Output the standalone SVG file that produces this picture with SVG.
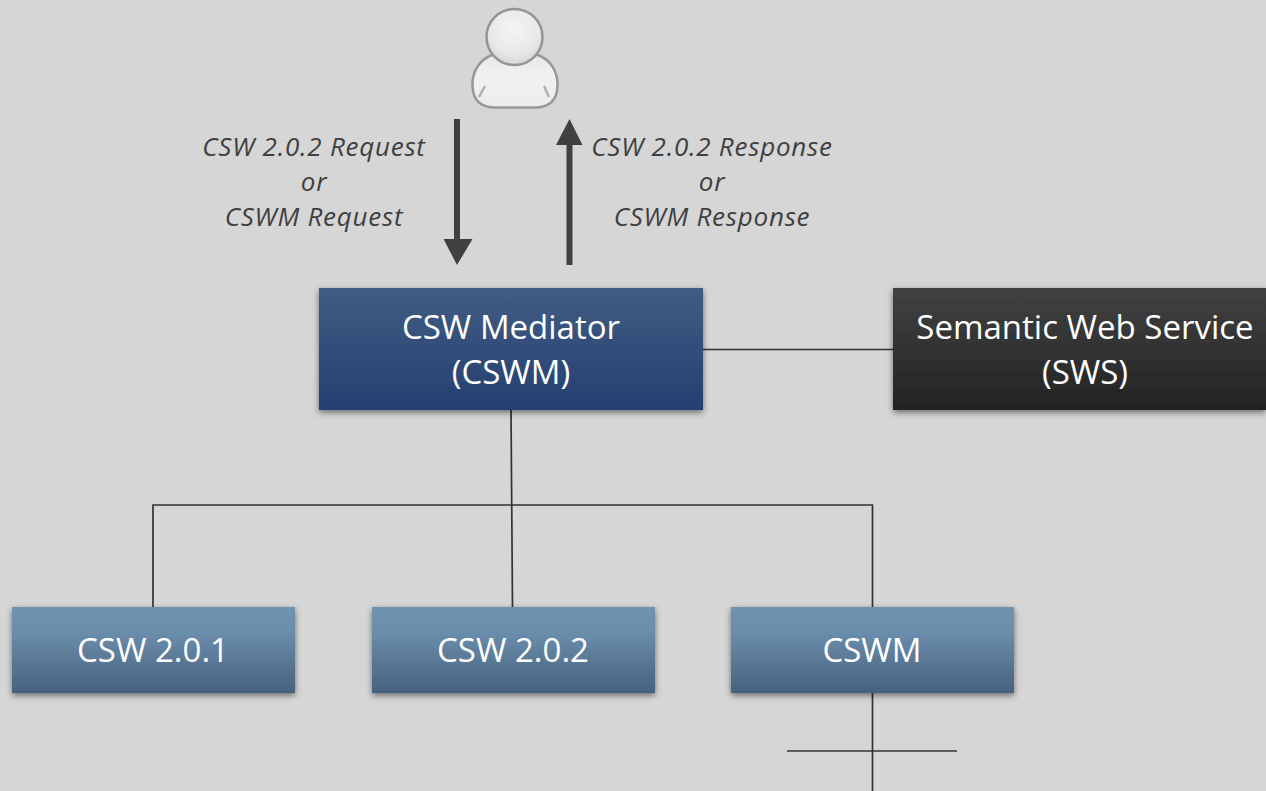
<svg xmlns="http://www.w3.org/2000/svg" width="1266" height="791" viewBox="0 0 1266 791">
<style>
.lbl{font-family:"Open Sans","Noto Sans","DejaVu Sans",sans-serif;font-size:33px;fill:#fff;text-anchor:middle}
.cap{font-family:"Open Sans","Noto Sans","DejaVu Sans",sans-serif;font-size:26px;font-style:italic;letter-spacing:.75px;fill:#404040;text-anchor:middle}
.ln{stroke:#333;stroke-width:1.700;fill:none}
.ar{fill:#404040}
</style>
<defs>
<linearGradient id="gNavy" x1="0" y1="0" x2="0" y2="1"><stop offset="0" stop-color="#415c83"/><stop offset="1" stop-color="#243f70"/></linearGradient>
<linearGradient id="gDark" x1="0" y1="0" x2="0" y2="1"><stop offset="0" stop-color="#414141"/><stop offset="1" stop-color="#232323"/></linearGradient>
<linearGradient id="gBlue" x1="0" y1="0" x2="0" y2="1"><stop offset="0" stop-color="#6e93b0"/><stop offset="0.3" stop-color="#6a8dab"/><stop offset="1" stop-color="#47617f"/></linearGradient>
<radialGradient id="gHead" cx="0.5" cy="0.35" r="0.65"><stop offset="0" stop-color="#f4f4f4"/><stop offset="0.7" stop-color="#e8e8e8"/><stop offset="1" stop-color="#d6d6d6"/></radialGradient>
<linearGradient id="gBody" x1="0" y1="0" x2="0" y2="1"><stop offset="0" stop-color="#e8e8e8"/><stop offset="0.4" stop-color="#f1f1f1"/><stop offset="1" stop-color="#ececec"/></linearGradient>
<filter id="sh" x="-5%" y="-5%" width="110%" height="120%"><feDropShadow dx="0" dy="2.500" stdDeviation="3" flood-color="#000" flood-opacity="0.5"/></filter>
<filter id="soft" x="-10%" y="-10%" width="120%" height="120%"><feGaussianBlur stdDeviation="0.7"/></filter>
</defs>
<rect width="1266" height="791" fill="#d6d6d6"/>
<g id="connectors">
<path class="ln" d="M703 349.500H893"/>
<path class="ln" d="M511 410L512.500 607"/>
<path class="ln" d="M153 607V505H872.500V607"/>
<path class="ln" d="M872.500 693V791"/>
<path class="ln" d="M787 751H957"/>
<path class="ar" d="M454 119h6v120h12.500L457 265L443.500 239H454Z"/>
<path class="ar" d="M566.500 265V145H556L569.500 119L582.500 145H572.500V265Z"/>
</g>
<g id="user" filter="url(#soft)">
<path d="M492 55C479 60 472 72 472.500 86C473 100 480 107 494 107.500H536C550 107 557 100 557.500 86C558 72 551 60 538 55Z" fill="url(#gBody)" stroke="#989898" stroke-width="2.500"/>
<circle cx="514.500" cy="37" r="28" fill="url(#gHead)" stroke="#959595" stroke-width="2.500"/>
<path d="M479 97L485 86M549 97L544 86" stroke="#b0b0b0" stroke-width="2.500" fill="none"/>
</g>
<g id="req"><text class="cap" x="314" y="155.500">CSW 2.0.2 Request</text><text class="cap" x="314" y="191">or</text><text class="cap" x="314" y="226">CSWM Request</text></g>
<g id="resp"><text class="cap" x="712" y="155.500">CSW 2.0.2 Response</text><text class="cap" x="712" y="191">or</text><text class="cap" x="712" y="226">CSWM Response</text></g>
<g id="cswm-mediator"><rect x="319" y="288" width="384" height="122" fill="url(#gNavy)" filter="url(#sh)"/><text class="lbl" x="511" y="339">CSW Mediator</text><text class="lbl" x="511" y="384">(CSWM)</text></g>
<g id="sws"><rect x="893" y="288" width="373" height="122" fill="url(#gDark)" filter="url(#sh)"/><text class="lbl" x="1085" y="339">Semantic Web Service</text><text class="lbl" x="1085" y="384">(SWS)</text></g>
<g id="csw201"><rect x="12" y="607" width="283" height="86" fill="url(#gBlue)" filter="url(#sh)"/><text class="lbl" x="153" y="662">CSW 2.0.1</text></g>
<g id="csw202"><rect x="372" y="607" width="283" height="86" fill="url(#gBlue)" filter="url(#sh)"/><text class="lbl" x="513" y="662">CSW 2.0.2</text></g>
<g id="cswm"><rect x="731" y="607" width="283" height="86" fill="url(#gBlue)" filter="url(#sh)"/><text class="lbl" x="872" y="662">CSWM</text></g>
</svg>
